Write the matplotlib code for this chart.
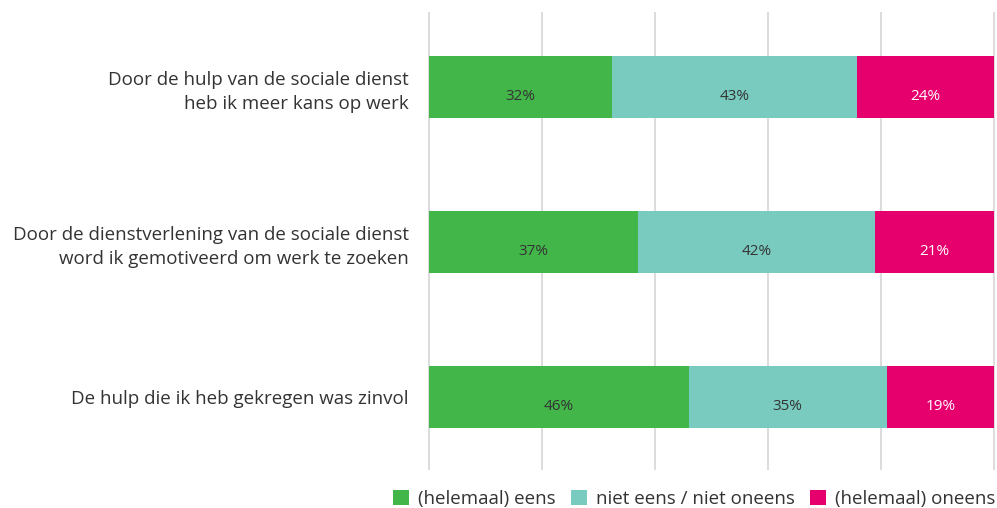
import matplotlib.pyplot as plt
from matplotlib.patches import Patch

plt.rcParams['font.family'] = ['Open Sans', 'DejaVu Sans']

categories = [
    "Door de hulp van de sociale dienst\nheb ik meer kans op werk",
    "Door de dienstverlening van de sociale dienst\nword ik gemotiveerd om werk te zoeken",
    "De hulp die ik heb gekregen was zinvol",
]
series_names = ["(helemaal) eens", "niet eens / niet oneens", "(helemaal) oneens"]
eens = [32, 37, 46]
neutraal = [43, 42, 35]
oneens = [24, 21, 19]

colors = ["#43b649", "#79cbbf", "#e5006e"]
text_colors = ["#333333", "#333333", "#ffffff"]

fig = plt.figure(figsize=(9.97, 5.08), dpi=100)
ax = fig.add_axes([427 / 997, 0.0748, 569 / 997, 0.9016])

series = [eens, neutraal, oneens]
totals = [a + b + c for a, b, c in zip(eens, neutraal, oneens)]
ypos = list(range(len(categories)))
left = [0.0] * len(categories)
for vals, col, tcol in zip(series, colors, text_colors):
    widths = [v / t * 100 for v, t in zip(vals, totals)]
    ax.barh(ypos, widths, left=left, height=0.4, color=col, zorder=2)
    for y, l, w, v in zip(ypos, left, widths, vals):
        ax.text(l + w / 2, y + 0.06, f"{v}%", ha="center", va="center",
                color=tcol, fontsize=11, zorder=3)
    left = [l + w for l, w in zip(left, widths)]

ax.set_xlim(-0.354, 100.354)
ax.set_ylim(2.47, -0.484)
ax.set_xticks([0, 20, 40, 60, 80, 100])
ax.set_xticklabels([])
ax.grid(axis="x", color="#d9d9d9", linewidth=1.3, zorder=0)
ax.set_yticks(ypos)
ax.set_yticklabels(categories, fontsize=13.5, color="#333333", linespacing=1.42)
ax.tick_params(axis="both", length=0)
ax.tick_params(axis="y", pad=13)
for s in ax.spines.values():
    s.set_visible(False)

handles = [Patch(facecolor=c, edgecolor="none") for c in colors]
fig.legend(handles, series_names, loc="lower right", bbox_to_anchor=(1.015, -0.034),
           ncol=3, frameon=False, fontsize=13.5, handlelength=0.85, handleheight=0.85,
           handletextpad=0.45, columnspacing=0.85, labelcolor="#333333")

fig.savefig("out.png", dpi=100)
